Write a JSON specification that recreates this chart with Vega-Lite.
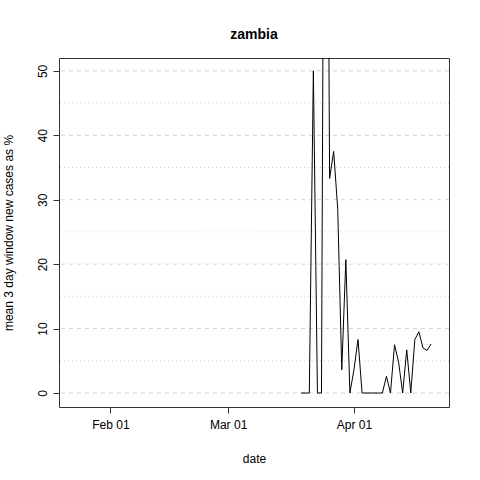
{
"$schema":"https://vega.github.io/schema/vega-lite/v6.json",
"width":390,"height":349,
"autosize":{"type":"none"},
"padding":{"left":59,"top":58,"right":31,"bottom":73},
"background":"white",
"title":{"text":"zambia","font":"Liberation Sans","fontSize":14,"fontWeight":"bold","offset":16},
"config":{"view":{"stroke":"#333","strokeWidth":1},"axis":{"labelFont":"Liberation Sans","titleFont":"Liberation Sans","labelFontSize":12,"titleFontSize":12,"titleFontWeight":"normal","grid":false,"domain":false,"tickColor":"#333","labelColor":"#000","titleColor":"#000"}},
"layer":[
{"data":{"values":[{"g":0,"d":"dash"},{"g":10,"d":"dash"},{"g":20,"d":"dash"},{"g":30,"d":"dash"},{"g":40,"d":"dash"},{"g":50,"d":"dash"},{"g":5,"d":"dot"},{"g":15,"d":"dot"},{"g":25,"d":"dot"},{"g":35,"d":"dot"},{"g":45,"d":"dot"}]},
"mark":{"type":"rule","color":"#d3d3d3"},
"encoding":{"y":{"field":"g","type":"quantitative","scale":{"domain":[-2.17,52]}},
"strokeDash":{"field":"d","type":"nominal","scale":{"domain":["dash","dot"],"range":[[4,4],[1,3]]},"legend":null}}},
{"data":{"values":[
{"date":"2020-03-19","v":0},{"date":"2020-03-20","v":0},{"date":"2020-03-21","v":0},{"date":"2020-03-22","v":50},{"date":"2020-03-23","v":0},{"date":"2020-03-24","v":0},{"date":"2020-03-25","v":150},{"date":"2020-03-26","v":33.3},{"date":"2020-03-27","v":37.5},{"date":"2020-03-28","v":28.6},{"date":"2020-03-29","v":3.6},{"date":"2020-03-30","v":20.7},{"date":"2020-03-31","v":0},{"date":"2020-04-01","v":3.6},{"date":"2020-04-02","v":8.3},{"date":"2020-04-03","v":0},{"date":"2020-04-04","v":0},{"date":"2020-04-05","v":0},{"date":"2020-04-06","v":0},{"date":"2020-04-07","v":0},{"date":"2020-04-08","v":0},{"date":"2020-04-09","v":2.6},{"date":"2020-04-10","v":0},{"date":"2020-04-11","v":7.5},{"date":"2020-04-12","v":4.8},{"date":"2020-04-13","v":0},{"date":"2020-04-14","v":6.7},{"date":"2020-04-15","v":0},{"date":"2020-04-16","v":8.3},{"date":"2020-04-17","v":9.5},{"date":"2020-04-18","v":7.0},{"date":"2020-04-19","v":6.6},{"date":"2020-04-20","v":7.6}]},
"mark":{"type":"line","color":"#000","strokeWidth":1,"clip":true},
"encoding":{
"x":{"field":"date","type":"temporal","title":"date","scale":{"type":"utc","domain":[{"year":2020,"month":1,"date":19,"hours":8,"utc":true},{"year":2020,"month":4,"date":24,"hours":10,"utc":true}]},
"axis":{"values":[{"year":2020,"month":2,"date":1,"utc":true},{"year":2020,"month":3,"date":1,"utc":true},{"year":2020,"month":4,"date":1,"utc":true}],"format":"%b %d","labelPadding":6,"titleY":46,"tickSize":6,"labelFlush":false}},
"y":{"field":"v","type":"quantitative","title":"mean  3  day window new cases as %","scale":{"domain":[-2.17,52]},"axis":{"values":[0,10,20,30,40,50],"labelAngle":-90,"labelAlign":"center","labelBaseline":"bottom","labelPadding":4,"tickSize":6,"titleX":-44}}}}
]}
